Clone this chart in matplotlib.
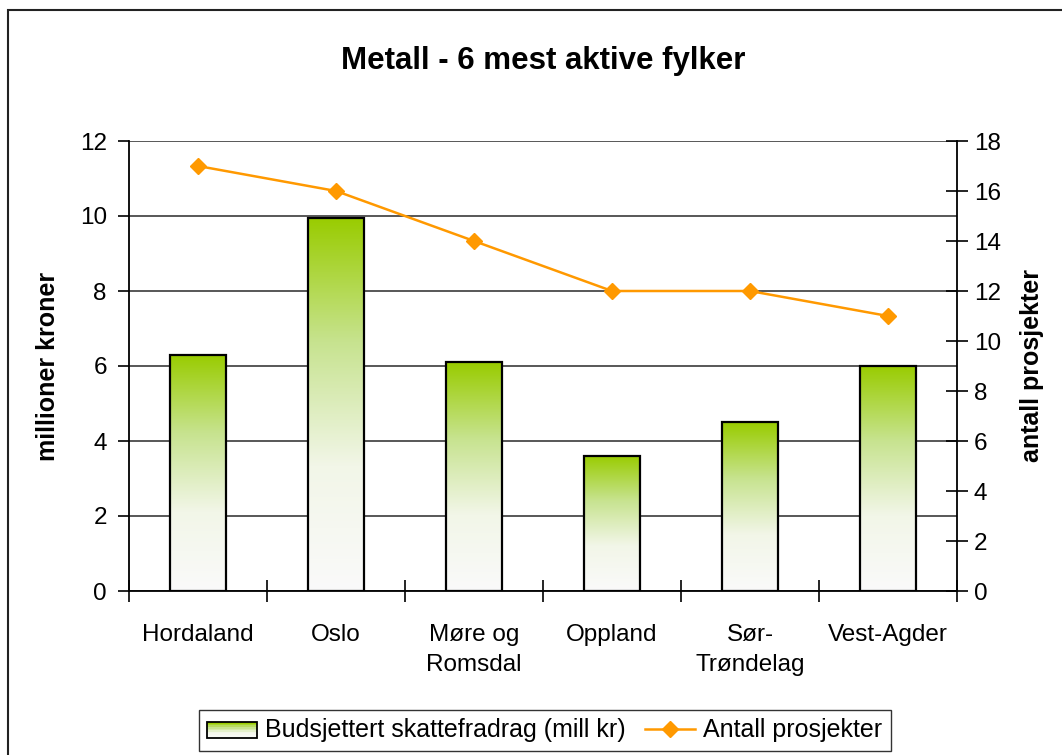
import matplotlib
matplotlib.use("Agg")
import matplotlib.pyplot as plt, numpy as np
from matplotlib.colors import LinearSegmentedColormap
from matplotlib.patches import Rectangle
from matplotlib.lines import Line2D
from matplotlib.legend_handler import HandlerBase

plt.rcParams["font.family"] = ["Liberation Sans", "DejaVu Sans"]

# data
fylker = ["Hordaland", "Oslo", "Møre og\nRomsdal", "Oppland", "Sør-\nTrøndelag", "Vest-Agder"]
skattefradrag = [6.3, 9.95, 6.1, 3.6, 4.5, 6.0]   # mill kr
prosjekter = [17, 16, 14, 12, 12, 11]

green = "#99cc00"
orange = "#ff9900"
grad = LinearSegmentedColormap.from_list("g", ["#fafafa", "#f2f6e8", "#c7e38f", green])

W, H = 1062, 755
fig = plt.figure(figsize=(W / 100, H / 100), dpi=100)
fig.patch.set_facecolor("white")

# outer chart frame (right/bottom edges fall outside the picture)
fig.patches.append(Rectangle((8 / W, -0.02), 1.2, 1 - 10 / H + 0.02, transform=fig.transFigure,
                             fill=False, edgecolor="#222222", linewidth=1.5))

ax = fig.add_axes([129 / W, 1 - 591 / H, (957 - 129) / W, (591 - 141) / H])
x = np.arange(len(fylker))
bw = 0.41

bars = ax.bar(x, skattefradrag, width=bw, facecolor="none", edgecolor="black", linewidth=1.6, zorder=3)
img = np.linspace(0, 1, 256).reshape(-1, 1)
for b in bars:
    x0, h = b.get_x(), b.get_height()
    im = ax.imshow(img, cmap=grad, origin="lower", aspect="auto",
                   extent=(x0, x0 + bw, 0, h), zorder=2, interpolation="bilinear")
    im.set_clip_path(b)

ax.set_xlim(-0.5, len(fylker) - 0.5)
ax.set_ylim(0, 12)
ax.set_yticks(np.arange(0, 13, 2))
ax.yaxis.grid(True, color="#2a2a2a", linewidth=1.1)
ax.set_axisbelow(True)
ax.set_xticks(x)
ax.set_xticklabels(fylker, fontsize=17.5, linespacing=1.45)
ax.tick_params(axis="x", length=0, pad=24)
ax.set_xticks(np.arange(-0.5, len(fylker), 1), minor=True)
ax.tick_params(axis="x", which="minor", length=16, direction="inout", width=1.2)
ax.tick_params(axis="y", labelsize=17.5, length=8, width=1.2, direction="out", pad=8)
ax.set_ylabel("millioner kroner", fontsize=18, fontweight="bold", labelpad=14)
for s in ["left", "bottom"]:
    ax.spines[s].set_linewidth(1.3)
ax.spines["top"].set_visible(False)
ax.spines["right"].set_visible(False)

ax2 = ax.twinx()
ax2.plot(x, prosjekter, color=orange, linewidth=1.8, marker="D", markersize=8.5,
         markeredgecolor=orange, zorder=4)
ax2.set_ylim(0, 18)
ax2.set_yticks(np.arange(0, 19, 2))
ax2.tick_params(axis="y", labelsize=17.5, length=16, width=1.2, direction="inout", pad=4)
ax2.set_ylabel("antall prosjekter", fontsize=18, fontweight="bold", rotation=90, labelpad=14)
ax2.spines["right"].set_linewidth(1.3)
for s in ["top", "left", "bottom"]:
    ax2.spines[s].set_visible(False)

ax.set_title("Metall - 6 mest aktive fylker", fontsize=22.5, fontweight="bold", pad=0,
             y=1 + (141 - 56) / (591 - 141) - 0.03)


class GradHandler(HandlerBase):
    def create_artists(self, legend, orig, xd, yd, width, height, fontsize, trans):
        arts = []
        n = 10
        for i in range(n):
            arts.append(Rectangle((xd, yd + height * i / n), width, height / n,
                                  facecolor=grad(i / (n - 1)), edgecolor="none", transform=trans))
        arts.append(Rectangle((xd, yd), width, height, fill=False, edgecolor="black",
                              linewidth=1.3, transform=trans))
        return arts


bar_h = Rectangle((0, 0), 1, 1)
line_h = Line2D([], [], color=orange, linewidth=1.8, marker="D", markersize=8)
leg = fig.legend([bar_h, line_h], ["Budsjettert skattefradrag (mill kr)", "Antall prosjekter"],
                 handler_map={bar_h: GradHandler()}, loc="upper left",
                 bbox_to_anchor=(186 / W, 1 - 697 / H), ncol=2, fontsize=18, frameon=True,
                 fancybox=False, edgecolor="black", handlelength=2.0, handletextpad=0.3,
                 columnspacing=0.8, borderpad=0.35, handleheight=0.6)
leg.get_frame().set_linewidth(1.0)

fig.savefig("out.png", dpi=100, facecolor="white")
